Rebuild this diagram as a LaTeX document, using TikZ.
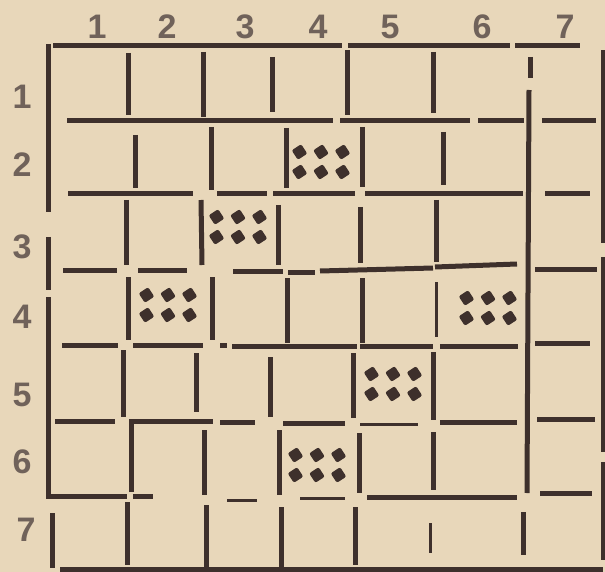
\documentclass[tikz,border=0pt]{standalone}
\usepackage{fontspec}
\setmainfont{Liberation Sans}

\definecolor{paper}{RGB}{232,215,186}
\definecolor{ink}{RGB}{62,48,44}
\definecolor{numink}{RGB}{112,98,90}

\tikzset{
  wall/.style={ink, line width=5pt},
  thinwall/.style={ink, line width=3pt},
  lbl/.style={text=numink, font=\fontsize{34}{34}\selectfont\bfseries, inner sep=0pt}
}

% one stone, and a block of six
\newcommand\gem[2]{\fill[ink, rounded corners=2pt, rotate around={-12:(#1,#2)}] (#1,#2) +(8,0) -- +(0,8) -- +(-8,0) -- +(0,-8) -- cycle;}
\newcommand\gemblock[2]{%
  \foreach \dx in {-21.5,0,21.5}{\foreach \dy in {-10,10}{\gem{{#1+\dx}}{{#2+\dy}}}}}

\begin{document}
\begin{tikzpicture}[x=1pt,y=-1pt]
 \fill[paper] (0,0) rectangle (605,572);
 \useasboundingbox (0,0) rectangle (605,572);

 % column numbers
 \node[lbl] (col1) at (97,27) {1};
 \node[lbl] (col2) at (167,27) {2};
 \node[lbl] (col3) at (245,27) {3};
 \node[lbl] (col4) at (318,27) {4};
 \node[lbl] (col5) at (390,27) {5};
 \node[lbl] (col6) at (482,27) {6};
 \node[lbl] (col7) at (565,27) {7};

 % row numbers
 \node[lbl] (row1) at (22,97) {1};
 \node[lbl] (row2) at (22,165) {2};
 \node[lbl] (row3) at (22,247) {3};
 \node[lbl] (row4) at (22,317) {4};
 \node[lbl] (row5) at (22,395) {5};
 \node[lbl] (row6) at (22,462) {6};
 \node[lbl] (row7) at (26,530) {7};

 % frame
 \draw[wall] (53,46) -- (342,46);
 \draw[wall] (348,46) -- (510,46);
 \draw[wall] (515,46) -- (580,46);
 \draw[wall] (48,44) -- (48,212);
 \draw[wall] (48,237) -- (48,290);
 \draw[wall] (48,297) -- (48,496) -- (127,496);
 \draw[wall] (603,50) -- (603,243);
 \draw[wall] (603,257) -- (603,452);
 \draw[wall] (603,462) -- (603,560);
 \draw[wall] (60,569) -- (603,569);

 % long wall between 6 and 7
 \draw[wall] (530,57) -- (530,78);
 \draw[wall] (529,90) -- (527,493);
 \draw[wall] (523,512) -- (523,555);

 % row 1
 \draw[wall] (128,53) -- (128,115);
 \draw[wall] (203,52) -- (203,117);
 \draw[wall] (272,57) -- (272,112);
 \draw[wall] (347,50) -- (347,115);
 \draw[wall] (433,52) -- (433,113);
 \draw[wall] (67,121) -- (333,121);
 \draw[wall] (340,121) -- (470,121);
 \draw[wall] (478,121) -- (524,121);
 \draw[wall] (542,121) -- (596,121);

 % row 2
 \draw[wall] (135,135) -- (135,188);
 \draw[wall] (211,127) -- (211,190);
 \draw[wall] (286,128) -- (286,188);
 \draw[wall] (362,127) -- (362,187);
 \draw[wall] (443,132) -- (443,185);
 \draw[wall] (68,194) -- (193,194);
 \draw[wall] (217,194) -- (267,194);
 \draw[wall] (273,194) -- (355,194);
 \draw[wall] (365,194) -- (523,194);
 \draw[wall] (545,194) -- (590,194);
 \gemblock{321}{162}

 % row 3
 \draw[wall] (126,200) -- (126,265);
 \draw[wall] (201,200) -- (202,265);
 \draw[wall] (278,205) -- (278,265);
 \draw[wall] (360,207) -- (360,263);
 \draw[wall] (436,200) -- (436,262);
 \draw[wall] (63,270) -- (117,270);
 \draw[wall] (138,270) -- (187,270);
 \draw[wall] (233,271) -- (283,271);
 \draw[wall] (288,272) -- (315,272);
 \draw[wall] (320,271) -- (433,268);
 \draw[wall] (435,267) -- (517,264);
 \draw[wall] (535,269) -- (597,269);
 \gemblock{238}{227}

 % row 4
 \draw[wall] (128,277) -- (128,340);
 \draw[wall] (212,277) -- (212,340);
 \draw[wall] (287,278) -- (287,343);
 \draw[wall] (362,278) -- (362,343);
 \draw[thinwall] (436,282) -- (436,337);
 \draw[wall] (62,345) -- (118,345);
 \draw[wall] (133,345) -- (203,345);
 \draw[wall] (220,345) -- (227,345);
 \draw[wall] (232,346) -- (357,346);
 \draw[wall] (360,346) -- (433,346);
 \draw[wall] (440,346) -- (518,346);
 \draw[wall] (535,343) -- (590,343);
 \gemblock{168}{305}
 \gemblock{488}{308}

 % row 5
 \draw[wall] (123,350) -- (123,417);
 \draw[wall] (196,353) -- (196,412);
 \draw[wall] (270,357) -- (270,417);
 \draw[wall] (353,353) -- (353,418);
 \draw[wall] (433,352) -- (433,420);
 \draw[wall] (55,421) -- (115,421);
 \draw[wall] (131,492) -- (131,421) -- (213,421);
 \draw[wall] (220,422) -- (255,422);
 \draw[wall] (283,423) -- (345,423);
 \draw[thinwall] (360,424) -- (418,424);
 \draw[wall] (440,422) -- (517,422);
 \draw[wall] (537,419) -- (595,419);
 \gemblock{393}{384}

 % row 6
 \draw[wall] (204,430) -- (204,495);
 \draw[wall] (279,430) -- (279,495);
 \draw[wall] (359,433) -- (359,493);
 \draw[wall] (433,432) -- (433,490);
 \draw[wall] (133,496) -- (153,496);
 \draw[thinwall] (227,500) -- (257,500);
 \draw[thinwall] (300,498) -- (345,498);
 \draw[wall] (367,497) -- (517,497);
 \draw[wall] (540,493) -- (592,493);
 \gemblock{317}{465}

 % row 7
 \draw[wall] (52,513) -- (52,568);
 \draw[wall] (127,502) -- (127,565);
 \draw[wall] (206,505) -- (206,568);
 \draw[wall] (281,507) -- (281,568);
 \draw[wall] (355,507) -- (355,565);
 \draw[thinwall] (430,523) -- (430,553);
\end{tikzpicture}
\end{document}
